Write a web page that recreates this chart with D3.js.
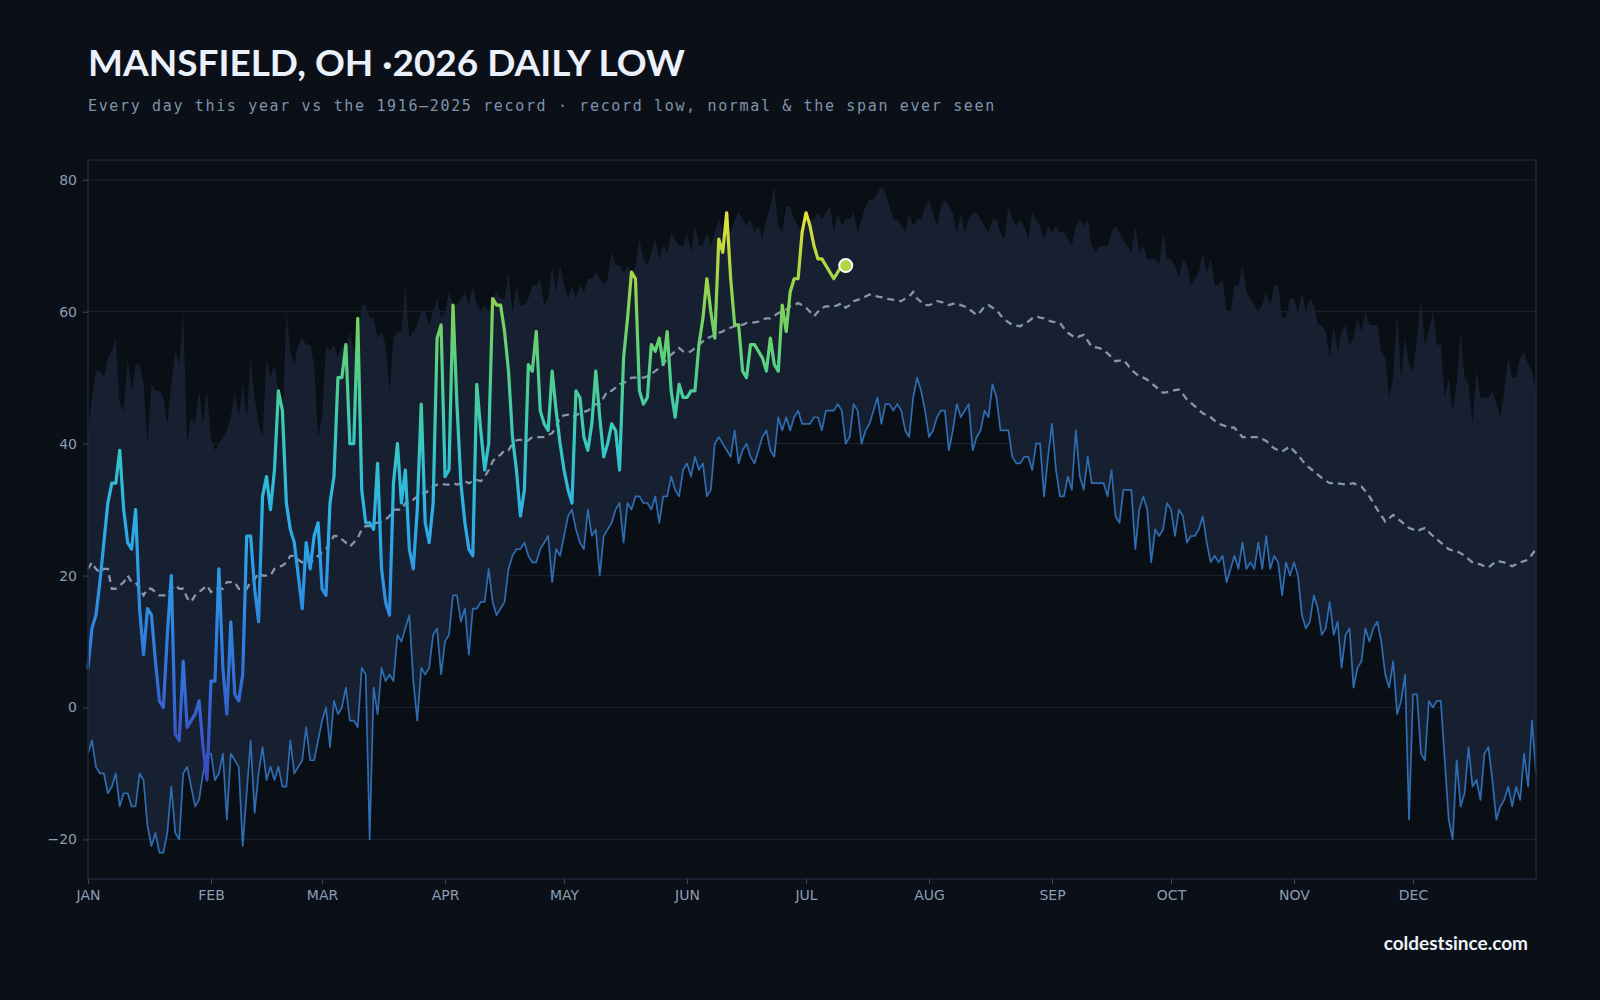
<!DOCTYPE html>
<html>
<head>
<meta charset="utf-8">
<script src="https://cdn.jsdelivr.net/npm/d3@7"></script>
<style>
  html, body { margin: 0; padding: 0; background: #0b0f17; }
  svg { display: block; }
  .tick text { font-family: "DejaVu Sans", sans-serif; font-size: 14px; fill: #8a9db3; }
  .tick line { stroke: #3a4a5e; }
</style>
</head>
<body>
<svg id="chart"></svg>
<script>
// ---------- data (day index 0 = Jan 1) ----------
var monthNames = ["JAN","FEB","MAR","APR","MAY","JUN","JUL","AUG","SEP","OCT","NOV","DEC"];
var monthStarts = [0,31,59,90,120,151,181,212,243,273,304,334];
var yTicks = [-20,0,20,40,60,80];

// 2026 daily lows, Jan 1 .. Jul 11
var thisYear = [
  6,12,14,19,25,31,34,34,39,30,
  25,24,30,15,8,15,14,7,1,0,
  11,20,-4,-5,7,-3,-2,-1,1,-6,
  -11,4,4,21,6,-1,13,2,1,5,
  26,26,18,13,32,35,30,36,48,45,
  31,27,25,20,15,25,21,26,28,18,
  17,31,35,50,50,55,40,40,59,33,
  28,28,27,37,21,16,14,34,40,31,
  36,24,21,30,46,28,25,31,56,58,
  35,36,61,46,34,28,24,23,49,42,
  36,40,62,61,61,57,51,41,36,29,
  33,52,51,57,45,43,42,51,45,40,
  36,33,31,48,47,41,39,43,51,44,
  38,40,43,42,36,53,59,66,65,48,
  46,47,55,54,56,52,57,48,44,49,
  47,47,48,48,55,59,65,60,56,71,
  69,75,65,58,58,51,50,55,55,54,
  53,51,56,52,51,61,57,63,65,65,
  72,75,73,70,68,68,67,66,65,66,
  67,67
];

// record lowest daily low 1916-2025
var recordLow = [
  -7,-5,-9,-10,-10,-13,-12,-10,-15,-13,
  -13,-15,-15,-10,-11,-18,-21,-19,-22,-22,
  -19,-12,-19,-20,-10,-9,-12,-15,-14,-10,
  -7,-7,-11,-10,-7,-17,-7,-8,-9,-21,
  -13,-5,-16,-10,-6,-11,-9,-11,-9,-12,
  -12,-5,-10,-9,-8,-3,-8,-8,-5,-2,
  0,-6,1,-1,0,3,-2,-2,-3,6,
  5,-20,3,-1,6,4,5,4,11,10,
  12,14,4,-2,6,5,6,11,12,5,
  10,11,17,17,13,15,8,15,15,16,
  16,21,16,14,15,16,21,23,24,24,
  25,23,22,22,24,25,26,19,24,23,
  26,29,30,27,25,24,30,26,27,20,
  26,27,28,30,31,25,31,30,32,32,
  31,31,30,32,28,32,32,35,33,32,
  36,37,35,38,36,37,32,33,40,41,
  40,39,38,42,37,39,40,38,37,39,
  41,42,39,38,44,42,44,42,44,45,
  43,43,43,44,44,42,45,45,45,46,
  45,40,41,46,45,40,42,43,45,47,
  43,46,46,45,46,45,42,41,47,50,
  48,45,41,42,44,45,45,39,42,46,
  44,45,46,39,41,42,45,44,49,47,
  42,42,42,38,37,37,38,38,36,40,
  40,32,38,43,36,32,32,35,33,42,
  35,33,38,34,34,34,34,32,36,29,
  28,33,33,33,24,30,32,30,22,27,
  26,27,31,30,26,30,29,25,26,26,
  27,29,25,22,23,22,23,19,21,23,
  21,25,21,22,21,25,21,26,21,23,
  22,17,22,20,22,20,14,12,13,17,
  15,11,12,16,11,13,6,11,12,3,
  6,7,12,10,12,13,10,5,3,7,
  -1,1,5,-17,2,2,-7,-8,1,0,
  1,1,-8,-17,-20,-8,-15,-13,-6,-12,
  -11,-14,-7,-6,-11,-17,-15,-14,-12,-15,
  -12,-14,-7,-12,-2,-10
];

// record highest daily low 1916-2025
var recordHigh = [
  42,47,51,51,50,53,54,56,46,45,
  53,48,52,52,49,40,49,48,48,47,
  43,49,54,52,60,40,44,43,48,43,
  48,41,39,40,41,42,44,48,44,49,
  44,53,47,43,41,53,50,52,48,43,
  60,54,52,55,56,55,55,52,41,44,
  55,54,55,53,55,54,57,54,55,61,
  61,59,59,56,57,55,48,56,57,57,
  64,56,57,58,60,60,58,60,62,59,
  60,63,61,61,62,63,61,64,61,60,
  61,60,62,63,62,62,66,60,64,61,
  61,62,64,64,65,61,62,67,63,67,
  64,62,64,62,64,63,65,65,66,65,
  64,65,69,67,67,66,67,66,67,71,
  68,67,69,71,68,70,69,72,71,70,
  70,72,69,73,70,70,72,70,72,74,
  72,73,72,74,75,74,73,74,72,73,
  71,74,76,79,73,72,76,76,74,73,
  72,73,74,74,75,74,75,76,72,75,
  73,74,74,75,72,74,76,77,77,78,
  79,78,76,74,74,73,72,75,73,74,
  74,76,77,75,73,76,77,76,75,72,
  75,72,74,75,75,74,73,72,74,74,
  72,71,76,74,73,74,73,71,75,74,
  73,71,73,72,73,72,72,71,70,73,
  74,73,74,70,69,70,70,70,72,73,
  72,71,70,69,73,69,70,68,68,68,
  67,72,68,68,67,65,68,67,64,65,
  66,69,66,68,64,64,65,60,60,64,
  64,67,63,62,61,60,61,63,61,64,
  64,59,59,62,62,60,63,60,62,61,
  58,58,57,53,58,54,57,58,55,56,
  59,57,60,58,58,58,54,53,47,50,
  60,50,56,52,51,56,62,55,57,60,
  55,55,47,50,45,49,57,50,49,43,
  51,47,47,47,48,46,44,48,53,50,
  50,53,54,52,51,48
];

// normal daily low
var normal = [
  21,22,21,20.5,21,21,18,18,18.5,19,
  20,19,19,18,17,18,18,17.5,17,17,
  17,18,18.5,18,18,16.6,16,17,17.5,18,
  18.5,17.5,18,18,18,19,19,19,18,18,
  18,19,19.5,20.4,20,20,20,21,21.3,21.5,
  22,23,23,22.4,22,22.4,22,22.4,23,23.5,
  24,25,26,26,25.5,25,24.4,25,25.7,27,
  27.5,27.5,28,28,28.2,28.5,29,30,30,30,
  31,31,31.5,32,32.5,32.5,33,33.5,33.8,34,
  33.8,33.8,34,33.8,34,34.3,34,34.3,34.5,34.3,
  35,36,37.3,38,38.3,39,39,40,40.5,40.6,
  40.3,40.5,41,41,41,41,41.3,41.6,42.5,44,
  44.3,44.4,44,44.3,44.6,44.8,45,45.5,46,46,
  47,48,48,48.5,49,49.2,49.5,50,50,50,
  50,50.2,50.6,51,51.5,52,53,53.5,54,54.5,
  54,53.8,54,54.5,55,55.5,56,56.2,56.5,56.8,
  57,57.5,57.6,57.8,58,58,58.3,58.3,58.4,58.5,
  58.8,59,59,59.4,59.8,60,60.3,60.8,61,61.3,
  61,60.6,60,59.3,60,60.6,60.8,60.8,60.8,61,
  61.3,60.6,61,61.6,61.8,62,62.3,62.6,62.5,62.3,
  62.2,62,61.9,61.8,61.7,61.6,62,62.3,63,62,
  61.5,61,61,61.2,61.6,61.5,61.3,61,61.2,61.3,
  61,60.8,60.4,60,59.5,60,60.8,61,60.6,60.3,
  59.5,58.8,58.4,58,57.9,57.8,58.2,58.5,59,59.3,
  59.1,59,58.7,58.5,58.4,58.3,57.5,56.8,56.4,56,
  56.3,56.5,55.6,54.7,54.6,54.5,54.1,53.7,53.1,52.5,
  52.6,52.7,52,51.2,50.7,50.2,50,49.7,49.2,48.7,
  48.2,47.7,47.8,48,48.1,48.2,47.5,46.7,46.2,45.7,
  45.1,44.6,44.3,44,43.5,43,42.8,42.6,42.5,42.4,
  41.7,41,41,41,41,41,40.7,40.4,39.8,39.3,
  39,38.8,39.2,39.6,38.9,38.3,37.5,36.8,36.3,35.8,
  35.3,34.8,34.4,34,34,34,33.9,33.8,33.9,34,
  33.7,33.5,32.8,32,31,30,29.1,28.2,28.7,29.2,
  28.7,28.2,27.7,27.2,27,26.7,27,27.2,26.6,26,
  25.5,25,24.5,24,23.8,23.7,23.4,23,22.5,22,
  21.8,21.7,21.4,21.2,21.7,22.2,22.1,22,21.7,21.4,
  21.7,22,22.2,22.4,23.2,24
];

// colour ramp for this year's line (temperature -> colour)
var rampTemps  = [-12, 0, 10, 20, 30, 40, 50, 60, 68, 76];
var rampColors = ["#3d45bd","#3563cf","#2f7fe0","#2c98e6","#2db3e4","#36c8c2","#4ecf8e","#7cd35c","#b6d73f","#eee23b"];

//---------- layout ----------
var screen = {width:1600, height:1000};
var margins = {left:88, right:64, top:160, bottom:121};
var graph = {
  width: screen.width - margins.left - margins.right,
  height: screen.height - margins.top - margins.bottom
};

var svg = d3.select("#chart")
  .attr("width", screen.width)
  .attr("height", screen.height);

svg.append("rect")
  .attr("width", screen.width)
  .attr("height", screen.height)
  .attr("fill", "#0b0f17");

var xScale = d3.scaleLinear().domain([0,365]).range([0, graph.width]);
var yScale = d3.scaleLinear().domain([-26,83]).range([graph.height, 0]);
var colorScale = d3.scaleLinear().domain(rampTemps).range(rampColors);

var target = svg.append("g")
  .attr("transform", "translate(" + margins.left + "," + margins.top + ")");

// plot background
target.append("rect")
  .attr("width", graph.width)
  .attr("height", graph.height)
  .attr("fill", "#0a0e15");

// gridlines
target.selectAll("line.grid")
  .data(yTicks)
  .enter()
  .append("line")
  .attr("class", "grid")
  .attr("x1", 0)
  .attr("x2", graph.width)
  .attr("y1", function(t){ return yScale(t); })
  .attr("y2", function(t){ return yScale(t); })
  .attr("stroke", "#172130")
  .attr("stroke-width", 1.2);

// span ever seen
var span = d3.area()
  .x(function(d,i){ return xScale(i); })
  .y0(function(d,i){ return yScale(recordLow[i]); })
  .y1(function(d){ return yScale(d); });

target.append("path")
  .datum(recordHigh)
  .attr("d", span)
  .attr("fill", "#172030");

// record low
var line = d3.line()
  .x(function(d,i){ return xScale(i); })
  .y(function(d){ return yScale(d); });

target.append("path")
  .datum(recordLow)
  .attr("d", line)
  .attr("fill", "none")
  .attr("stroke", "#2f6db3")
  .attr("stroke-width", 1.7)
  .attr("stroke-linejoin", "round");

// normal
target.append("path")
  .datum(normal)
  .attr("d", line)
  .attr("fill", "none")
  .attr("stroke", "#8796ab")
  .attr("stroke-width", 2.3)
  .attr("stroke-dasharray", "7,5");

// gradient for this year
var grad = svg.append("defs").append("linearGradient")
  .attr("id", "tempGrad")
  .attr("gradientUnits", "userSpaceOnUse")
  .attr("x1", 0).attr("x2", 0)
  .attr("y1", yScale(rampTemps[0]))
  .attr("y2", yScale(rampTemps[rampTemps.length-1]));

grad.selectAll("stop")
  .data(rampTemps)
  .enter()
  .append("stop")
  .attr("offset", function(t){
    return (t - rampTemps[0]) / (rampTemps[rampTemps.length-1] - rampTemps[0]);
  })
  .attr("stop-color", function(t){ return colorScale(t); });

target.append("path")
  .datum(thisYear)
  .attr("d", line)
  .attr("fill", "none")
  .attr("stroke", "url(#tempGrad)")
  .attr("stroke-width", 3.2)
  .attr("stroke-linejoin", "round")
  .attr("stroke-linecap", "round");

// latest day marker
var last = thisYear.length - 1;
target.append("circle")
  .attr("cx", xScale(last))
  .attr("cy", yScale(thisYear[last]))
  .attr("r", 6.5)
  .attr("fill", colorScale(thisYear[last]))
  .attr("stroke", "#ffffff")
  .attr("stroke-width", 2);

// frame
target.append("rect")
  .attr("width", graph.width)
  .attr("height", graph.height)
  .attr("fill", "none")
  .attr("stroke", "#1c2738")
  .attr("stroke-width", 1.5);

//---------- axes ----------
var yAxis = d3.axisLeft(yScale).tickValues(yTicks).tickSize(5).tickPadding(6);
var gy = svg.append("g")
  .attr("transform", "translate(" + margins.left + "," + margins.top + ")")
  .call(yAxis);
gy.select(".domain").remove();

var xAxis = d3.axisBottom(xScale)
  .tickValues(monthStarts)
  .tickFormat(function(d,i){ return monthNames[i]; })
  .tickSize(5)
  .tickPadding(6);
var gx = svg.append("g")
  .attr("transform", "translate(" + margins.left + "," + (margins.top + graph.height) + ")")
  .call(xAxis);
gx.select(".domain").remove();

//---------- labels ----------
svg.append("text")
  .text("MANSFIELD, OH \u00b72026 DAILY LOW")
  .attr("x", 88)
  .attr("y", 76)
  .attr("font-family", "Lato, 'Noto Sans', sans-serif")
  .attr("font-weight", "bold")
  .attr("font-size", 37)
  .attr("fill", "#eaf1fa");

svg.append("text")
  .text("Every day this year vs the 1916\u20132025 record \u00b7 record low, normal & the span ever seen")
  .attr("x", 88)
  .attr("y", 111)
  .attr("font-family", "'DejaVu Sans Mono', monospace")
  .attr("font-size", 15)
  .attr("letter-spacing", 1.65)
  .attr("fill", "#7f93ab");

svg.append("text")
  .text("coldestsince.com")
  .attr("x", 1528)
  .attr("y", 950)
  .attr("text-anchor", "end")
  .attr("font-family", "Lato, 'Noto Sans', sans-serif")
  .attr("font-weight", "bold")
  .attr("font-size", 19)
  .attr("fill", "#eef3f9");
</script>
</body>
</html>
